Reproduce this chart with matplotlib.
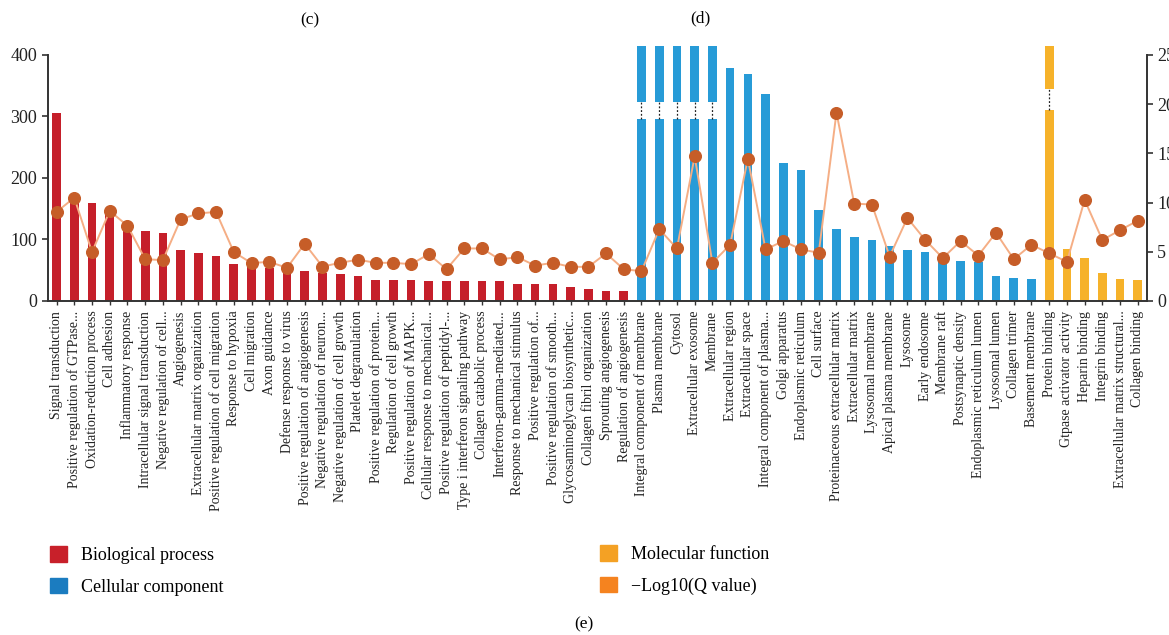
import numpy as np
import matplotlib.pyplot as plt
from matplotlib.patches import Patch

# GO enrichment: gene counts per term (bars) and -log10(Q) (line)
bp_terms = [
    "Signal transduction", "Positive regulation of GTPase...", "Oxidation-reduction process",
    "Cell adhesion", "Inflammatory response", "Intracellular signal transduction",
    "Negative regulation of cell...", "Angiogenesis", "Extracellular matrix organization",
    "Positive regulation of cell migration", "Response to hypoxia", "Cell migration",
    "Axon guidance", "Defense response to virus", "Positive regulation of angiogenesis",
    "Negative regulation of neuron...", "Negative regulation of cell growth",
    "Platelet degranulation", "Positive regulation of protein...", "Regulation of cell growth",
    "Positive regulation of MAPK...", "Cellular response to mechanical...",
    "Positive regulation of peptidyl-...", "Type i interferon signaling pathway",
    "Collagen catabolic process", "Interferon-gamma-mediated...",
    "Response to mechanical stimulus", "Positive regulation of...",
    "Positive regulation of smooth...", "Glycosaminoglycan biosynthetic...",
    "Collagen fibril organization", "Sprouting angiogenesis", "Regulation of angiogenesis",
]
bp_counts = [305, 173, 160, 144, 120, 113, 111, 83, 78, 73, 60, 57, 54, 53, 48, 46, 44,
             40, 34, 34, 34, 32, 32, 32, 32, 32, 28, 28, 28, 22, 20, 17, 17]

cc_terms = [
    "Integral component of membrane", "Plasma membrane", "Cytosol", "Extracellular exosome",
    "Membrane", "Extracellular region", "Extracellular space", "Integral component of plasma...",
    "Golgi apparatus", "Endoplasmic reticulum", "Cell surface",
    "Proteinaceous extracellular matrix", "Extracellular matrix", "Lysosomal membrane",
    "Apical plasma membrane", "Lysosome", "Early endosome", "Membrane raft",
    "Postsynaptic density", "Endoplasmic reticulum lumen", "Lysosomal lumen",
    "Collagen trimer", "Basement membrane",
]
# the first five run off the top of the axis (shown with a break)
cc_counts = [415, 415, 415, 415, 415, 379, 369, 337, 224, 213, 148, 117, 104, 99, 89,
             83, 80, 70, 65, 63, 40, 37, 36]

mf_terms = [
    "Protein binding", "Gtpase activator activity", "Heparin binding", "Integrin binding",
    "Extracellular matrix structural...", "Collagen binding",
]
mf_counts = [415, 84, 70, 46, 36, 34]

neg_log_q = [
    9.05, 10.5, 4.97, 9.15, 7.65, 4.25, 4.15, 8.3, 8.9, 9.05, 4.97, 3.85, 3.98, 3.37,
    5.82, 3.5, 3.88, 4.2, 3.88, 3.88, 3.74, 4.76, 3.23, 5.34, 5.34, 4.22, 4.46, 3.6,
    3.88, 3.47, 3.47, 4.83, 3.23,
    3.03, 7.3, 5.34, 14.7, 3.88, 5.71, 14.46, 5.24, 6.09, 5.24, 4.9, 19.15, 9.9, 9.8,
    4.52, 8.44, 6.22, 4.36, 6.09, 4.62, 6.94, 4.25, 5.71,
    4.85, 3.98, 10.27, 6.2, 7.2, 8.17,
]

# axis breaks drawn inside the over-tall bars: (top of lower part, bottom of upper part)
breaks = {
    "Integral component of membrane": (296, 324),
    "Plasma membrane": (296, 324),
    "Cytosol": (296, 324),
    "Extracellular exosome": (296, 324),
    "Membrane": (296, 324),
    "Protein binding": (311, 345),
}

RED = "#c51f2a"
BLUE = "#279bd7"
YELLOW = "#f6b22a"
LINE = "#f5ae85"
DOT = "#c65d28"
DARK = "#333333"

plt.rcParams["font.family"] = ["Liberation Serif", "DejaVu Serif"]

terms = bp_terms + cc_terms + mf_terms
x = np.arange(len(terms))
width = 0.49

fig = plt.figure(figsize=(11.69, 6.35), dpi=100)
ax = fig.add_axes([0.0408, 0.526, 0.9401, 0.3874])

groups = [
    (bp_terms, bp_counts, RED),
    (cc_terms, cc_counts, BLUE),
    (mf_terms, mf_counts, YELLOW),
]
start = 0
for names, counts, color in groups:
    for i, (name, val) in enumerate(zip(names, counts)):
        pos = start + i
        if name in breaks:
            lo, hi = breaks[name]
            ax.bar(pos, lo, width=width, color=color, clip_on=False, zorder=2)
            ax.bar(pos, val - hi, bottom=hi, width=width, color=color, clip_on=False, zorder=2)
            ax.plot([pos, pos], [lo, hi], color="#222222", lw=0.9, ls=(0, (1.5, 1.5)),
                    clip_on=False, zorder=2)
        else:
            ax.bar(pos, val, width=width, color=color, zorder=2)
    start += len(names)

ax.set_xlim(-0.5, len(terms) - 0.5)
ax.set_ylim(0, 400)
ax.set_yticks([0, 100, 200, 300, 400])
ax.set_xticks(x)
ax.set_xticklabels(terms, rotation=90, fontsize=10, color="#222222")
ax.tick_params(axis="y", length=4.5, width=1.2, color=DARK, labelsize=13, pad=3,
               labelcolor="#222222")
ax.tick_params(axis="x", length=3, width=1.0, color=DARK, pad=4)
for side in ["top", "right"]:
    ax.spines[side].set_visible(False)
for side in ["left", "bottom"]:
    ax.spines[side].set_color(DARK)
    ax.spines[side].set_linewidth(1.4)

ax2 = ax.twinx()
ax2.plot(x, neg_log_q, color=LINE, lw=1.4, marker="o", ms=8.4,
         mfc=DOT, mec=DOT, zorder=3)
ax2.set_ylim(0, 25)
ax2.set_yticks([0, 5, 10, 15, 20, 25])
ax2.tick_params(axis="y", length=4.5, width=1.2, color=DARK, labelsize=13, pad=3,
                labelcolor="#222222")
for side in ["top", "left", "bottom"]:
    ax2.spines[side].set_visible(False)
ax2.spines["right"].set_color(DARK)
ax2.spines["right"].set_linewidth(1.4)

# two-column legend below the x labels
leg_kw = dict(frameon=False, fontsize=13, handlelength=0.92, handleheight=0.95,
              handletextpad=0.78, labelspacing=0.75, borderpad=0, borderaxespad=0,
              loc="upper left")
fig.legend(handles=[Patch(color="#c8202a", label="Biological process"),
                    Patch(color="#1b7cc0", label="Cellular component")],
           bbox_to_anchor=(50 / 1169, 1 - 546 / 635), **leg_kw)
fig.legend(handles=[Patch(color="#f4a124", label="Molecular function"),
                    Patch(color="#f5831f", label="\u2212Log10(Q value)")],
           bbox_to_anchor=(600 / 1169, 1 - 545 / 635), **leg_kw)

fig.text(310 / 1169, 1 - 20 / 635, "(c)", ha="center", va="center", fontsize=12.5)
fig.text(700 / 1169, 1 - 18 / 635, "(d)", ha="center", va="center", fontsize=12.5)
fig.text(584 / 1169, 1 - 624 / 635, "(e)", ha="center", va="center", fontsize=12.5)

fig.savefig("out.png", dpi=100)
